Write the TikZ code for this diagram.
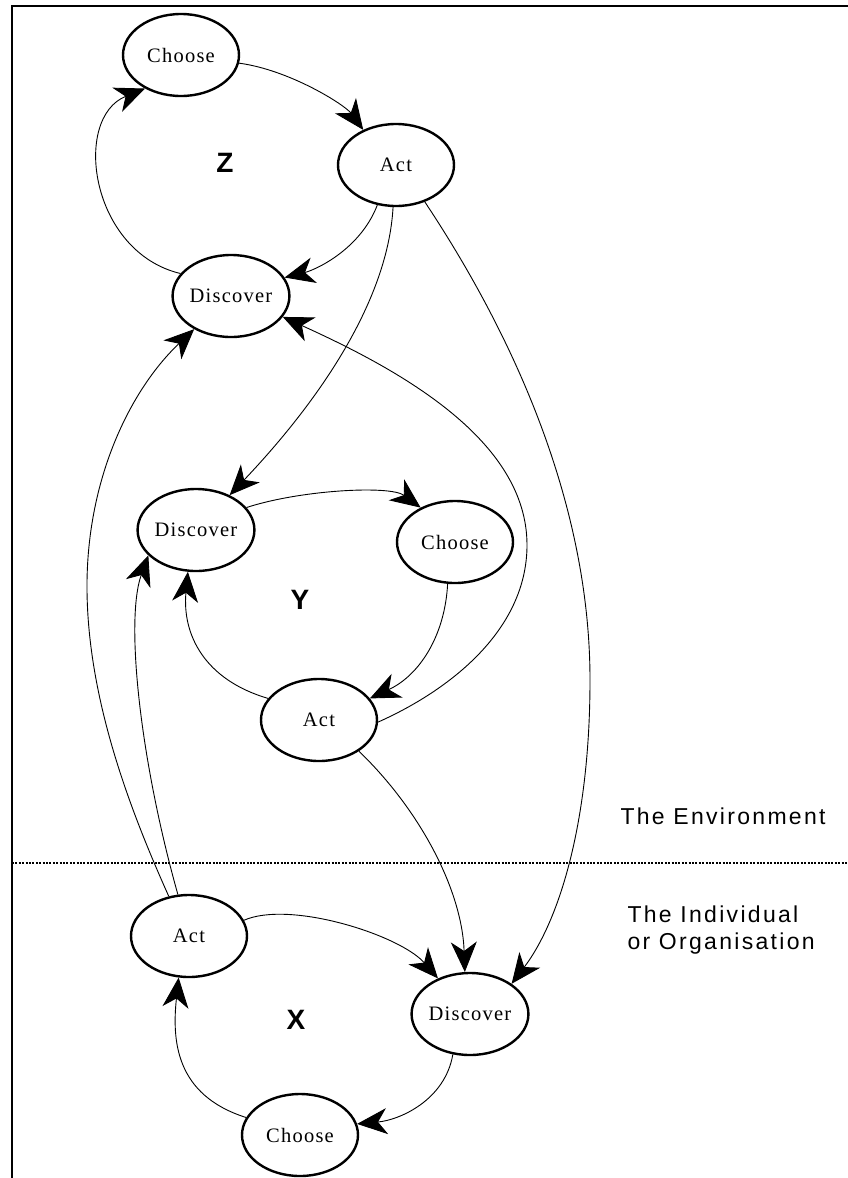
\documentclass[tikz,border=0pt]{standalone}
\usepackage{fontspec}
\setmainfont{Liberation Serif}
\newfontfamily\lblfont[LetterSpace=10]{Liberation Sans}
\newfontfamily\bigfont{Liberation Sans}
\newfontfamily\nodefont[LetterSpace=6]{Liberation Serif}
\usetikzlibrary{shapes.geometric,arrows.meta}
\tikzset{tipstyle/.tip={Stealth[length=30pt,width=26pt,inset=9pt]}}
\begin{document}
\begin{tikzpicture}[x=1pt,y=-1pt,
  state/.style={ellipse,draw,line width=2.4pt,minimum width=116pt,minimum height=82pt,inner sep=0pt,font=\nodefont\fontsize{20.5}{23}\selectfont},
  edge/.style={line width=0.9pt,-tipstyle},
  loopname/.style={font=\bigfont\bfseries\fontsize{28}{30}\selectfont},
  region/.style={font=\lblfont\fontsize{23}{27}\selectfont,align=left,anchor=west}]
\useasboundingbox (0,0) rectangle (848,1178);
\coordinate (tl) at (12,6);
\coordinate (tr) at (848,6);
\coordinate (bl) at (12,1178);
\draw[line width=1.8pt] (tr) -- (tl) -- (bl);
\coordinate (dl) at (12,863);
\coordinate (dr) at (848,863);
\draw[line width=2pt,dash pattern=on 2pt off 1.4pt] (dl) -- (dr);
% nodes
\node[state] (zc) at (181,55) {Choose};
\node[state] (za) at (396,165) {Act};
\node[state] (zd) at (231,296) {Discover};
\node[state] (yd) at (196,530) {Discover};
\node[state] (yc) at (455,542) {Choose};
\node[state] (ya) at (319,720) {Act};
\node[state] (xa) at (189,936) {Act};
\node[state] (xd) at (470,1014) {Discover};
\node[state] (xc) at (300,1135) {Choose};
\node[loopname] (zl) at (225,163) {Z};
\node[loopname] (yl) at (300,600) {Y};
\node[loopname] (xl) at (296,1020) {X};
\node[region] (env) at (617,816) {The Environment};
\node[region] (ind) at (624,930) {The Individual\\or Organisation};
% Z loop
\draw[edge] (zc.-8) .. controls (290,70) and (345,105) .. (za.133);
\draw[edge] (za.245) .. controls (360,250) and (315,270) .. (zd.19);
\draw[edge] (zd.156) .. controls (90,252) and (72,118) .. (zc.223);
% cross links
\draw[edge] (za.-94) .. controls (388,300) and (320,400) .. (yd.46);
\draw[edge] (za.-52) .. controls (510,330) and (590,500) .. (590,680)
  .. controls (590,820) and (560,920) .. (xd.36);
\draw[edge] (ya.-2) .. controls (450,690) and (527,630) .. (527,545)
  .. controls (527,440) and (400,370) .. (zd.-22);
\draw[edge] (xa.117) .. controls (130,810) and (88,700) .. (87,590)
  .. controls (86,480) and (130,390) .. (zd.222);
\draw[edge] (xa.105) .. controls (140,760) and (125,620) .. (yd.208);
% Y loop
\draw[edge] (yd.24) .. controls (300,490) and (390,485) .. (yc.135);
\draw[edge] (yc.-100) .. controls (445,635) and (420,675) .. (ya.23);
\draw[edge] (ya.157) .. controls (205,680) and (182,635) .. (yd.-101);
\draw[edge] (ya.-38) .. controls (420,810) and (462,890) .. (xd.97);
% X loop
\draw[edge] (xa.16) .. controls (290,900) and (400,935) .. (xd.132);
\draw[edge] (xd.-113) .. controls (445,1100) and (400,1120) .. (xc.11);
\draw[edge] (xc.162) .. controls (175,1095) and (172,1040) .. (xa.-104);
\end{tikzpicture}
\end{document}
